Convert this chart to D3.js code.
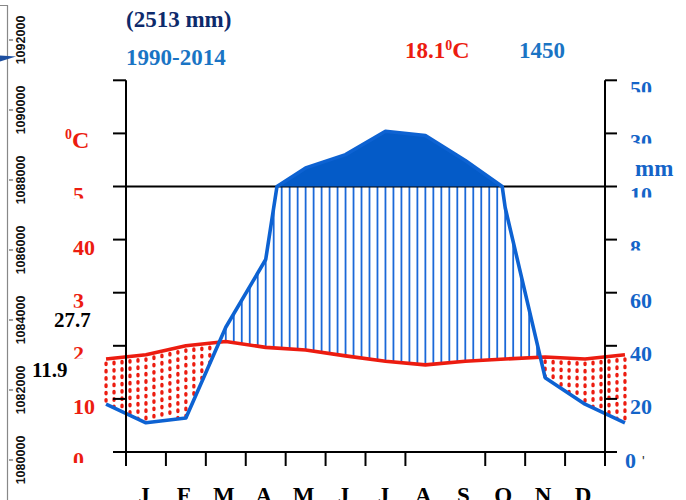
<!DOCTYPE html>
<html>
<head>
<meta charset="utf-8">
<script src="https://cdn.jsdelivr.net/npm/d3@7"></script>
<style>
  html, body { margin: 0; padding: 0; background: #fff; }
  svg { display: block; }
</style>
</head>
<body>
<div id="chart"></div>
<script>
// monthly normals
const months = ["J", "F", "M", "A", "M", "J", "J", "A", "S", "O", "N", "D"];
const tempC = [18.3, 20.0, 20.8, 19.7, 19.2, 18.1, 17.1, 16.4, 17.1, 17.5, 17.9, 17.5];
const precipMm = [11, 12.8, 47, 72.5, 170, 220, 308, 292, 198, 92, 28, 18];

// axis labels as they show on the picture (partly hidden)
const tempTickVals = [0, 10, 20, 30, 40, 50];
const tempTickText = ["0", "10", "2", "3", "40", "5"];
const precTickVals = [0, 20, 40, 60, 80, 100, 300, 500];
const precTickText = ["0", "20", "40", "60", "8", "10", "30", "50"];
const northTicks = [1080000, 1082000, 1084000, 1086000, 1088000, 1090000, 1092000];

const W = 686, H = 500;
const RED = "#ec1c10", BLUE = "#0d62d2", FILL = "#045bc8";
const SERIF = "'Liberation Serif', 'Times New Roman', serif";

const svg = d3.select("#chart").append("svg")
  .attr("width", W).attr("height", H);

// scales
const x = d3.scaleBand().domain(d3.range(12)).range([126, 605]);
const bw = x.bandwidth();
const xc = (i) => x(0) + (i + 0.5) * bw;  // works for -1 and 12 too (wrap points)
const yT = d3.scaleLinear().domain([0, 50]).range([452, 186.5]);
const yP = d3.scaleLinear().domain([0, 100]).range([452, 186.5]);
const yPc = d3.scaleLinear().domain([100, 500]).range([186.5, 80.3]);
const pY = (p) => (p <= 100 ? yP(p) : yPc(p));
const y100 = yP(100);

// series with December before and January after
const ext = d3.range(-1, 13).map((i) => ({
  x: xc(i),
  t: tempC[(i + 12) % 12],
  p: precipMm[(i + 12) % 12],
}));

// precipitation outline, compressed above 100 mm
let pv = [{ x: ext[0].x, y: pY(ext[0].p) }];
for (let k = 1; k < ext.length; k++) {
  const a = ext[k - 1], b = ext[k];
  if ((a.p - 100) * (b.p - 100) < 0) {
    const xs = a.x + (b.x - a.x) * (100 - a.p) / (b.p - a.p);
    pv.push({ x: xs, y: y100 });
  }
  pv.push({ x: b.x, y: pY(b.p) });
}

function interp(xs, key) {
  let j = Math.floor((xs - ext[0].x) / bw);
  j = Math.max(0, Math.min(ext.length - 2, j));
  const f = (xs - ext[j].x) / bw;
  return ext[j][key] + (ext[j + 1][key] - ext[j][key]) * f;
}

// humid hatching and arid dots
const step = bw / 5;
const xsList = d3.range(ext[0].x, ext[ext.length - 1].x + 0.5, step);
const hatch = svg.append("g");
xsList.forEach((xs) => {
  const ty = yT(interp(xs, "t"));
  const py = yP(interp(xs, "p"));
  if (py < ty - 1) {
    hatch.append("line")
      .attr("x1", xs).attr("x2", xs)
      .attr("y1", ty).attr("y2", Math.max(py, y100))
      .attr("stroke", "#1a68d8").attr("stroke-width", 1.8);
  } else if (py > ty + 5) {
    hatch.append("line")
      .attr("x1", xs).attr("x2", xs)
      .attr("y1", ty + 4).attr("y2", py - 1)
      .attr("stroke", RED).attr("stroke-width", 3.3)
      .attr("stroke-linecap", "round")
      .attr("stroke-dasharray", "1.5,5.8");
  }
});

// 100 mm line
svg.append("line")
  .attr("x1", x(0)).attr("x2", x(11) + bw)
  .attr("y1", y100).attr("y2", y100)
  .attr("stroke", "#000").attr("stroke-width", 2);

// solid area above 100 mm
svg.append("path")
  .datum(pv)
  .attr("d", d3.area().x((d) => d.x).y0(y100).y1((d) => Math.min(d.y, y100)))
  .attr("fill", FILL);

// temperature line
svg.append("path")
  .datum(ext)
  .attr("d", d3.line().x((d) => d.x).y((d) => yT(d.t)))
  .attr("fill", "none").attr("stroke", RED)
  .attr("stroke-width", 3.6).attr("stroke-linejoin", "round");

// precipitation line
svg.append("path")
  .datum(pv)
  .attr("d", d3.line().x((d) => d.x).y((d) => d.y))
  .attr("fill", "none").attr("stroke", BLUE)
  .attr("stroke-width", 3.6).attr("stroke-linejoin", "round");

// axes
const ax = svg.append("g").attr("stroke", "#000").attr("stroke-width", 2);
const xL = x(0), xR = x(11) + bw, yBase = yT(0), yTop = yT(70), yLow = 466;
ax.append("line").attr("x1", xL).attr("x2", xL).attr("y1", yTop).attr("y2", yLow);
ax.append("line").attr("x1", xR).attr("x2", xR).attr("y1", yTop).attr("y2", yLow);
ax.append("line").attr("x1", xL - 13).attr("x2", xR + 12).attr("y1", yBase).attr("y2", yBase);
d3.range(0, 71, 10).forEach((v) => {
  ax.append("line").attr("x1", xL - 13).attr("x2", xL).attr("y1", yT(v)).attr("y2", yT(v));
  ax.append("line").attr("x1", xR).attr("x2", xR + 12).attr("y1", yT(v)).attr("y2", yT(v));
});
// month ticks (the one between A and S is missing on the original)
d3.range(1, 12).filter((i) => i !== 8).forEach((i) => {
  ax.append("line").attr("x1", x(i)).attr("x2", x(i)).attr("y1", yBase).attr("y2", yLow);
});

// month labels, cut by the bottom edge like on the picture
svg.append("g").selectAll("text")
  .data(months).join("text")
  .attr("x", (d, i) => xc(i) - 2)
  .attr("y", 503)
  .attr("text-anchor", "middle")
  .attr("font-family", SERIF).attr("font-weight", "bold")
  .attr("font-size", 23).attr("fill", "#000")
  .text((d) => d);

// tick labels, some are cut off at the bottom like on the picture
const defs = svg.append("defs");
const cutLeft = { 0: 11, 20: 13, 30: 15, 50: 12 };
const cutRight = { 80: 11, 100: 11, 300: 10, 500: 12 };

tempTickVals.forEach((v, i) => {
  const ty = yT(v);
  const t = svg.append("text")
    .attr("x", 73).attr("y", ty + 15)
    .attr("font-family", SERIF).attr("font-weight", "bold")
    .attr("font-size", 22).attr("fill", RED)
    .text(tempTickText[i]);
  if (cutLeft[v] !== undefined) {
    const id = "cl" + v;
    defs.append("clipPath").attr("id", id).append("rect")
      .attr("x", 60).attr("y", ty - 20).attr("width", 50).attr("height", 20 + cutLeft[v]);
    t.attr("clip-path", "url(#" + id + ")");
  }
});

precTickVals.forEach((v, i) => {
  const ty = pY(v);
  const t = svg.append("text")
    .attr("x", v === 0 ? 625 : 630).attr("y", ty + 15.5)
    .attr("font-family", SERIF).attr("font-weight", "bold")
    .attr("font-size", 22).attr("fill", "#1464c8")
    .text(precTickText[i]);
  if (cutRight[v] !== undefined) {
    const id = "cr" + v;
    defs.append("clipPath").attr("id", id).append("rect")
      .attr("x", 620).attr("y", ty - 20).attr("width", 60).attr("height", 20 + cutRight[v]);
    t.attr("clip-path", "url(#" + id + ")");
  }
});
svg.append("text").attr("x", 642).attr("y", 466)
  .attr("font-family", "'Liberation Sans', Arial, sans-serif")
  .attr("font-size", 14).attr("fill", "#333").text("'");

// unit labels
const degC = svg.append("text").attr("x", 65).attr("y", 148)
  .attr("font-family", SERIF).attr("font-weight", "bold").attr("fill", RED);
degC.append("tspan").attr("font-size", 14).attr("dy", -9).text("0");
degC.append("tspan").attr("font-size", 24).attr("dy", 9).text("C");

svg.append("text").attr("x", 635).attr("y", 176)
  .attr("font-family", SERIF).attr("font-weight", "bold")
  .attr("font-size", 23).attr("fill", "#1464c8").text("mm");

// header texts
svg.append("text").attr("x", 126).attr("y", 27)
  .attr("font-family", SERIF).attr("font-weight", "bold")
  .attr("font-size", 23).attr("fill", "#0d2a6b").text("(2513 mm)");
svg.append("text").attr("x", 126).attr("y", 65)
  .attr("font-family", SERIF).attr("font-weight", "bold")
  .attr("font-size", 23).attr("fill", "#1a74c4").text("1990-2014");

const meanT = svg.append("text").attr("x", 405).attr("y", 58)
  .attr("font-family", SERIF).attr("font-weight", "bold").attr("fill", RED);
meanT.append("tspan").attr("font-size", 23).text("18.1");
meanT.append("tspan").attr("font-size", 14).attr("dy", -8).text("0");
meanT.append("tspan").attr("font-size", 24).attr("dy", 8).text("C");

svg.append("text").attr("x", 519).attr("y", 58)
  .attr("font-family", SERIF).attr("font-weight", "bold")
  .attr("font-size", 23).attr("fill", "#1a74c4").text("1450");

// extreme temperature notes
svg.append("text").attr("x", 54).attr("y", 327)
  .attr("font-family", SERIF).attr("font-weight", "bold")
  .attr("font-size", 21).attr("fill", "#000").text("27.7");
svg.append("text").attr("x", 32).attr("y", 377)
  .attr("font-family", SERIF).attr("font-weight", "bold")
  .attr("font-size", 21).attr("fill", "#000").text("11.9");

// left strip: piece of a neighbouring map frame
const yN = d3.scaleLinear().domain([1080000, 1092000]).range([460, 40]);
const strip = svg.append("g");
strip.append("path")
  .attr("d", "M0,5.5H7.5V500")
  .attr("fill", "none").attr("stroke", "#888").attr("stroke-width", 1.2);
strip.selectAll("line.nt").data(northTicks).join("line")
  .attr("x1", 9).attr("x2", 13)
  .attr("y1", (d) => yN(d)).attr("y2", (d) => yN(d))
  .attr("stroke", "#444").attr("stroke-width", 1);
strip.selectAll("text").data(northTicks).join("text")
  .attr("transform", (d) => "translate(25," + yN(d) + ") rotate(-90)")
  .attr("text-anchor", "middle")
  .attr("font-family", "'Liberation Sans', Arial, sans-serif")
  .attr("font-weight", "bold").attr("font-size", 12.5).attr("fill", "#111")
  .text((d) => d);
strip.append("path")
  .attr("d", "M0,55.5L16,56.5L0,61.5Z")
  .attr("fill", "#1e4fa0");
</script>
</body>
</html>
